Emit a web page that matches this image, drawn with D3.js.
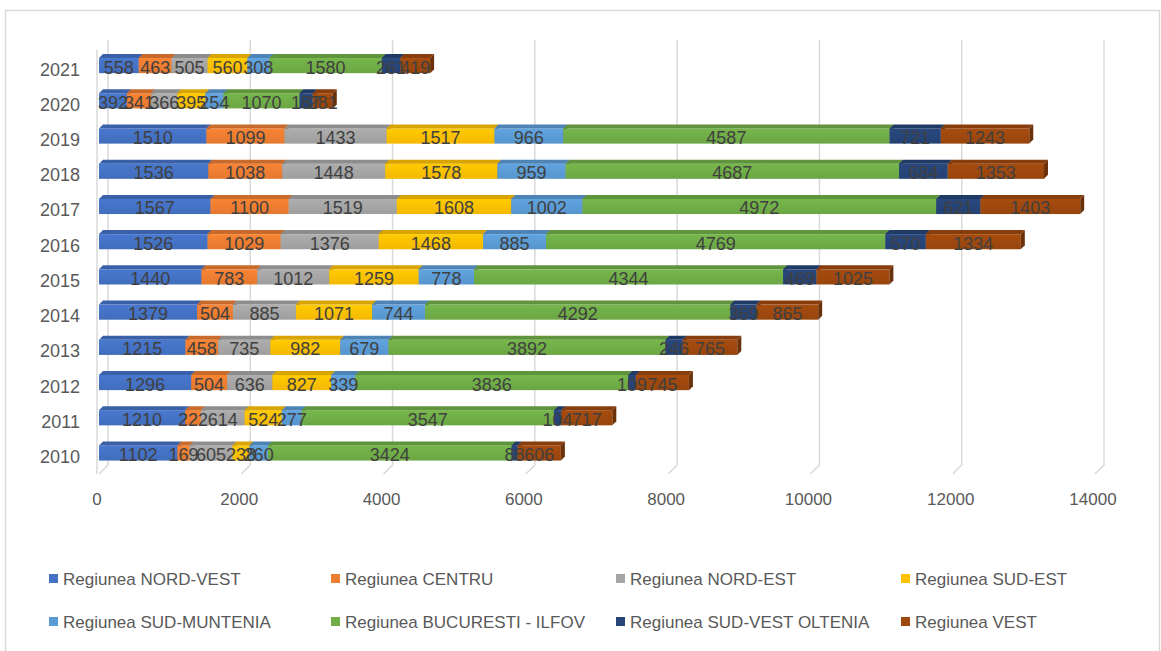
<!DOCTYPE html>
<html>
<head>
<meta charset="utf-8">
<script src="https://cdn.jsdelivr.net/npm/d3@7"></script>
<style>
  body { margin: 0; background: #fff; }
  svg { font-family: "Liberation Sans", Arial, sans-serif; }
</style>
</head>
<body>
<div id="chart"></div>
<script>
// years, bottom to top
const years = ['2010', '2011', '2012', '2013', '2014', '2015', '2016', '2017', '2018', '2019', '2020', '2021'];

const regions = ['Regiunea NORD-VEST', 'Regiunea CENTRU', 'Regiunea NORD-EST', 'Regiunea SUD-EST',
  'Regiunea SUD-MUNTENIA', 'Regiunea BUCURESTI - ILFOV', 'Regiunea SUD-VEST OLTENIA', 'Regiunea VEST'];

const nordVest    = [1102, 1210, 1296, 1215, 1379, 1440, 1526, 1567, 1536, 1510, 392, 558];
const centru      = [169, 222, 504, 458, 504, 783, 1029, 1100, 1038, 1099, 341, 463];
const nordEst     = [605, 614, 636, 735, 885, 1012, 1376, 1519, 1448, 1433, 366, 505];
const sudEst      = [238, 524, 827, 982, 1071, 1259, 1468, 1608, 1578, 1517, 395, 560];
const sudMuntenia = [260, 277, 339, 679, 744, 778, 885, 1002, 959, 966, 254, 308];
const bucuresti   = [3424, 3547, 3836, 3892, 4292, 4344, 4769, 4972, 4687, 4587, 1070, 1580];
const sudVestOlt  = [88, 104, 109, 246, 369, 469, 570, 621, 684, 721, 187, 261];
const vest        = [606, 717, 745, 765, 865, 1025, 1334, 1403, 1353, 1243, 281, 419];

const xTicks = [0, 2000, 4000, 6000, 8000, 10000, 12000, 14000];

const colors = ['#4472C4', '#ED7D31', '#A5A5A5', '#FFC000', '#5B9BD5', '#70AD47', '#264478', '#9E480E'];

const seriesValues = [nordVest, centru, nordEst, sudEst, sudMuntenia, bucuresti, sudVestOlt, vest];

const rows = years.map((y, i) => {
  const r = {year: y};
  regions.forEach((name, k) => r[name] = seriesValues[k][i]);
  return r;
});

const W = 1161, H = 651;
const depth = 4;       // 3d offset of bar faces
const wallDepth = 9;   // offset of back wall gridlines

const svg = d3.select('#chart').append('svg')
  .attr('width', W)
  .attr('height', H);

// outer chart frame
svg.append('rect')
  .attr('x', 5.5).attr('y', 10.5)
  .attr('width', 1154).attr('height', 645)
  .attr('fill', 'none')
  .attr('stroke', '#d9d9d9')
  .attr('stroke-width', 1.5);

const x = d3.scaleLinear().domain([0, 14000]).range([99, 1095]);
const y = d3.scaleBand().domain(years.slice().reverse()).range([48, 470.6]).paddingInner(0.57).paddingOuter(0.285);

const floorY = 474;
const wallTop = 40;

// gridlines on the back wall + floor diagonal
const grid = svg.append('g');
grid.selectAll('path.grid')
  .data(xTicks)
  .join('path')
  .attr('class', 'grid')
  .attr('d', d => {
    const xb = x(d) + wallDepth;
    return `M${xb},${wallTop}V${floorY - wallDepth}L${x(d)},${floorY}`;
  })
  .attr('fill', 'none')
  .attr('stroke', '#d9d9d9')
  .attr('stroke-width', 1.5);

// side wall front edge
grid.append('line')
  .attr('x1', x(0) - 2).attr('x2', x(0) - 2)
  .attr('y1', wallTop + 10).attr('y2', floorY)
  .attr('stroke', '#d9d9d9')
  .attr('stroke-width', 1.5);

// gradients for front faces
const defs = svg.append('defs');
colors.forEach((c, k) => {
  const g = defs.append('linearGradient')
    .attr('id', 'grad' + k)
    .attr('x1', 0).attr('x2', 0).attr('y1', 0).attr('y2', 1);
  g.append('stop').attr('offset', '0%').attr('stop-color', d3.color(c).brighter(0.15));
  g.append('stop').attr('offset', '100%').attr('stop-color', d3.color(c).darker(0.12));
});

const stack = d3.stack().keys(regions);
const stacked = stack(rows);

const bh = y.bandwidth();

const bars = svg.append('g');
years.slice().reverse().forEach(year => {
  const i = years.indexOf(year);
  const y0 = y(year);
  const y1 = y0 + bh;
  const g = bars.append('g');
  stacked.forEach((s, k) => {
    const a = x(s[i][0]), b = x(s[i][1]);
    const c = d3.color(colors[k]);
    g.append('rect')
      .attr('x', a).attr('y', y0)
      .attr('width', Math.max(0, b - a)).attr('height', bh)
      .attr('fill', `url(#grad${k})`);
    g.append('path')
      .attr('d', `M${a},${y0}L${b},${y0}L${b + depth},${y0 - depth}L${a + depth},${y0 - depth}Z`)
      .attr('fill', c.darker(0.45));
    g.append('path')
      .attr('d', `M${b},${y0}L${b + depth},${y0 - depth}L${b + depth},${y1 - depth}L${b},${y1}Z`)
      .attr('fill', c.darker(1.1));
  });
});

// data labels
const labels = svg.append('g');
years.forEach((year, i) => {
  stacked.forEach((s, k) => {
    const a = x(s[i][0]), b = x(s[i][1]);
    labels.append('text')
      .attr('x', (a + b) / 2)
      .attr('y', y(year) + bh / 2 + 2)
      .attr('text-anchor', 'middle')
      .attr('dominant-baseline', 'central')
      .style('font-size', '18px')
      .style('fill', '#404040')
      .text(s[i].data[regions[k]]);
  });
});

// year axis labels
svg.append('g').selectAll('text')
  .data(years)
  .join('text')
  .attr('x', 80)
  .attr('y', d => y(d) + bh / 2 + 4)
  .attr('text-anchor', 'end')
  .attr('dominant-baseline', 'central')
  .style('font-size', '18px')
  .style('fill', '#595959')
  .text(d => d);

// value axis labels
svg.append('g').selectAll('text')
  .data(xTicks)
  .join('text')
  .attr('x', d => x(d) - 2)
  .attr('y', 499)
  .attr('text-anchor', 'middle')
  .attr('dominant-baseline', 'central')
  .style('font-size', '17px')
  .style('fill', '#595959')
  .text(d => d);

// legend
const legendX = [49, 331, 616, 901];
const legendY = [579, 622];
const legend = svg.append('g');
regions.forEach((name, k) => {
  const lx = legendX[k % 4], ly = legendY[Math.floor(k / 4)];
  legend.append('rect')
    .attr('x', lx).attr('y', ly - 5)
    .attr('width', 9).attr('height', 9)
    .attr('fill', colors[k]);
  legend.append('text')
    .attr('x', lx + 14)
    .attr('y', ly)
    .attr('dominant-baseline', 'central')
    .style('font-size', '17px')
    .style('fill', '#595959')
    .text(name);
});
</script>
</body>
</html>
